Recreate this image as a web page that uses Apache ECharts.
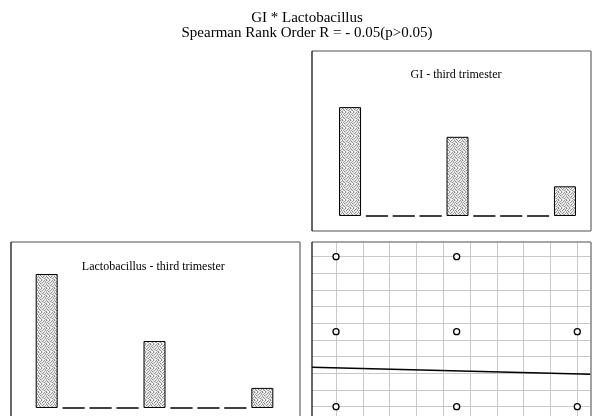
<!DOCTYPE html>
<html><head><meta charset="utf-8">
<script src="https://cdn.jsdelivr.net/npm/echarts@6/dist/echarts.min.js"></script>
<style>html,body{margin:0;padding:0;background:#fff}#c{width:592px;height:416px}</style>
</head><body><div id="c"></div>
<script>
// ---- data ----
const binLabels = ['1','2','3','4','5','6','7','8','9'];
const giCounts = [11, 0, 0, 0, 8, 0, 0, 0, 3];
const lactoCounts = [20, 0, 0, 0, 10, 0, 0, 0, 3];
const scatterGI = [0, 4.5, 0, 4.5, 9, 0, 4.5, 9];
const scatterLacto = [9, 9, 4.5, 4.5, 4.5, 0, 0, 0];
const gridTicksGI = [0, 1, 2, 3, 4, 5, 6, 7, 8, 9];
const gridTicksLacto = [0, 1, 2, 3, 4, 5, 6, 7, 8, 9];
const fitIntercept = 2.33;
const fitSlope = -0.0404;
const mainTitle = 'GI * Lactobacillus';
const subTitle = 'Spearman Rank Order R = - 0.05(p>0.05)';
const giTitle = 'GI - third trimester';
const lactoTitle = 'Lactobacillus - third trimester';

// ---- stipple fill pattern (fixed, deterministic) ----
function makePattern() {
  const shades = [
    'fbfbfb','8a8a8a','e2e2e2','f6f6f6','9a9a9a','eeeeee','7e7e7e','d6d6d6',
    'a2a2a2','ececec','f8f8f8','868686','e4e4e4','b2b2b2','fafafa','dcdcdc',
    'e8e8e8','f4f4f4','929292','dadada','fcfcfc','8e8e8e','e0e0e0','9e9e9e',
    '848484','d8d8d8','eaeaea','f2f2f2','a8a8a8','f0f0f0','c0c0c0','f6f6f6',
    'f0f0f0','aaaaaa','fefefe','8c8c8c','dedede','f8f8f8','909090','e6e6e6',
    'dcdcdc','f6f6f6','888888','e4e4e4','f4f4f4','9c9c9c','eeeeee','828282',
    '969696','e2e2e2','f0f0f0','c4c4c4','8e8e8e','e8e8e8','fafafa','d0d0d0',
    'f2f2f2','a0a0a0','dadada','fcfcfc','eaeaea','b6b6b6','949494','f4f4f4'
  ];
  const cv = document.createElement('canvas');
  cv.width = 8; cv.height = 8;
  const ctx = cv.getContext('2d');
  for (let i = 0; i < 64; i++) {
    ctx.fillStyle = '#' + shades[i];
    ctx.fillRect(i % 8, Math.floor(i / 8), 1, 1);
  }
  return { image: cv, repeat: 'repeat' };
}
const pattern = makePattern();

const xMin = -0.9, xMax = 9.5;
const fitData = [[xMin, fitIntercept + fitSlope * xMin], [xMax, fitIntercept + fitSlope * xMax]];

const serif = 'Liberation Serif, Times New Roman, serif';
const chart = echarts.init(document.getElementById('c'), null, { renderer: 'canvas' });

const borderGray = '#8a8a8a';
function frame(x1, y1, x2, y2) {
  return [
    { type: 'line', z: 100, shape: { x1: x1, y1: y1, x2: x2, y2: y1 }, style: { stroke: borderGray, lineWidth: 1.6 } },
    { type: 'line', z: 100, shape: { x1: x2, y1: y1, x2: x2, y2: y2 }, style: { stroke: borderGray, lineWidth: 1.6 } },
    { type: 'line', z: 100, shape: { x1: x1, y1: y2, x2: x2, y2: y2 }, style: { stroke: borderGray, lineWidth: 1.6 } },
    { type: 'line', z: 101, shape: { x1: x1, y1: y1, x2: x1, y2: y2 }, style: { stroke: '#000', lineWidth: 1.2 } }
  ];
}

chart.setOption({
  animation: false,
  backgroundColor: '#fff',
  grid: [
    { left: 336.6, top: 97.2, width: 241.8, height: 118.8 },
    { left: 33.2, top: 260.6, width: 242.6, height: 147.4 },
    { left: 311.9, top: 242, width: 278.8, height: 174 }
  ],
  xAxis: [
    { gridIndex: 0, type: 'category', data: binLabels, show: false },
    { gridIndex: 1, type: 'category', data: binLabels, show: false },
    { gridIndex: 2, type: 'value', min: xMin, max: xMax,
      axisLine: { show: false },
      axisTick: { show: false, customValues: gridTicksGI },
      axisLabel: { show: false, customValues: gridTicksGI },
      splitLine: { show: true, lineStyle: { color: '#c8c8c8', width: 1 } } }
  ],
  yAxis: [
    { gridIndex: 0, type: 'value', min: 0, max: 12, show: false },
    { gridIndex: 1, type: 'value', min: 0, max: 22, show: false },
    { gridIndex: 2, type: 'value', min: -0.56, max: 9.88,
      axisLine: { show: false },
      axisTick: { show: false, customValues: gridTicksLacto },
      axisLabel: { show: false, customValues: gridTicksLacto },
      splitLine: { show: true, lineStyle: { color: '#c8c8c8', width: 1 } } }
  ],
  series: [
    { type: 'bar', xAxisIndex: 0, yAxisIndex: 0, data: giCounts, barWidth: 22,
      itemStyle: { color: pattern, borderColor: '#000', borderWidth: 1 }, silent: true },
    { type: 'bar', xAxisIndex: 1, yAxisIndex: 1, data: lactoCounts, barWidth: 22,
      itemStyle: { color: pattern, borderColor: '#000', borderWidth: 1 }, silent: true },
    { type: 'line', xAxisIndex: 2, yAxisIndex: 2, data: fitData, symbol: 'none', z: 3,
      lineStyle: { color: '#000', width: 1.5 }, silent: true },
    { type: 'scatter', xAxisIndex: 2, yAxisIndex: 2, z: 4,
      data: scatterGI.map((x, i) => [x, scatterLacto[i]]),
      symbol: 'circle', symbolSize: 6,
      itemStyle: { color: '#fff', borderColor: '#000', borderWidth: 1.3, opacity: 1 }, silent: true }
  ],
  graphic: [
    ...frame(312, 51, 591, 231),
    ...frame(11, 242, 300, 430),
    ...frame(312, 242, 591, 430),
    { type: 'text', z: 102, x: 307, y: 25.5, style: { text: mainTitle, fill: '#000', font: '15px ' + serif, textAlign: 'center', textVerticalAlign: 'bottom' } },
    { type: 'text', z: 102, x: 307, y: 40.2, style: { text: subTitle, fill: '#000', font: '15px ' + serif, textAlign: 'center', textVerticalAlign: 'bottom' } },
    { type: 'text', z: 102, x: 456, y: 75, style: { text: giTitle, fill: '#000', font: '12px ' + serif, textAlign: 'center', textVerticalAlign: 'middle' } },
    { type: 'text', z: 102, x: 153.3, y: 266.7, style: { text: lactoTitle, fill: '#000', font: '12px ' + serif, textAlign: 'center', textVerticalAlign: 'middle' } }
  ]
});
</script></body></html>
